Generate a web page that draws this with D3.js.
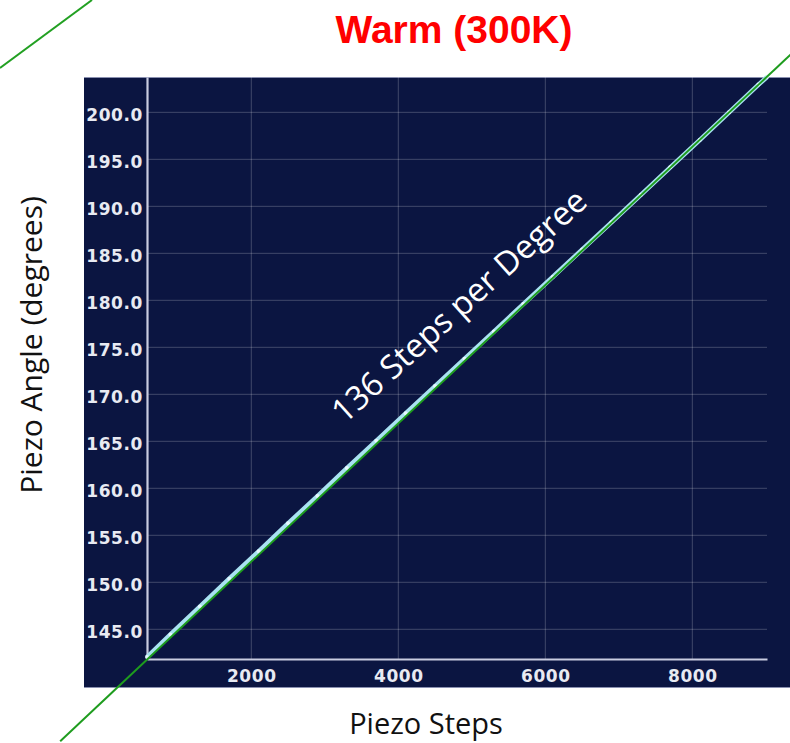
<!DOCTYPE html>
<html>
<head>
<meta charset="utf-8">
<script src="https://cdn.jsdelivr.net/npm/d3@7"></script>
<style>
  body { margin: 0; background: #ffffff; }
  svg { display: block; }
</style>
</head>
<body>
<div id="chart"></div>
<script>
var svgWidth = 790;
var svgHeight = 743;

// measured points (piezo steps, angle in degrees)
var pointSteps = [581, 900, 1300, 1700, 2100, 2500, 2900, 3300, 3700, 4100, 4500,
    4900, 5300, 5700, 6100, 6500, 6900, 7300, 7700, 8100, 8500, 8900, 9016];
var pointAngles = [142.05, 144.45, 147.42, 150.38, 153.30, 156.27, 159.17, 162.15, 165.05,
    167.98, 170.88, 173.78, 176.68, 179.60, 182.48, 185.40, 188.30, 191.22, 194.15,
    197.05, 200.00, 202.95, 203.76];

// linear fit: 136 steps per degree
var stepsPerDegree = 136;
var fitOffset = 137.5;
var fitSteps = [-600, 9400];

var xTicks = [2000, 4000, 6000, 8000];
var yTicks = [145, 150, 155, 160, 165, 170, 175, 180, 185, 190, 195, 200];

var titleText = 'Warm (300K)';
var xLabelText = 'Piezo Steps';
var yLabelText = 'Piezo Angle (degrees)';
var noteText = '136 Steps per Degree';

// plot area inside the dark panel
var plot = { left: 147, right: 767, top: 77, bottom: 659 };
var panel = { left: 84, right: 790, top: 77, bottom: 688 };

var svg = d3.select('#chart')
    .append('svg')
    .attr('width', svgWidth)
    .attr('height', svgHeight);

var xScale = d3.scaleLinear()
    .domain([581, 9016])
    .range([plot.left, plot.right]);

var yScale = d3.scaleLinear()
    .domain([141.84, 203.76])
    .range([plot.bottom, plot.top]);

// stray fit line from the neighbouring slide (top-left corner)
svg.append('line')
    .attr('x1', 0).attr('y1', 68)
    .attr('x2', 92).attr('y2', 0)
    .attr('stroke', '#22a022')
    .attr('stroke-width', 2);

// dark panel
svg.append('rect')
    .attr('x', panel.left)
    .attr('y', panel.top)
    .attr('width', panel.right - panel.left)
    .attr('height', panel.bottom - panel.top)
    .attr('fill', '#0b1541');

svg.append('line')
    .attr('x1', panel.left).attr('x2', panel.right)
    .attr('y1', panel.top + 0.5).attr('y2', panel.top + 0.5)
    .attr('stroke', '#8a90b0').attr('stroke-width', 1);
svg.append('line')
    .attr('x1', panel.left).attr('x2', panel.right)
    .attr('y1', panel.bottom - 0.5).attr('y2', panel.bottom - 0.5)
    .attr('stroke', '#8a90b0').attr('stroke-width', 1);

// grid
var grid = svg.append('g');
grid.selectAll('.vgrid')
    .data(xTicks)
    .enter()
    .append('line')
    .attr('x1', d => xScale(d)).attr('x2', d => xScale(d))
    .attr('y1', plot.top).attr('y2', plot.bottom)
    .attr('stroke', 'rgba(255,255,255,0.22)')
    .attr('stroke-width', 1);
grid.selectAll('.hgrid')
    .data(yTicks)
    .enter()
    .append('line')
    .attr('x1', plot.left).attr('x2', plot.right)
    .attr('y1', d => yScale(d)).attr('y2', d => yScale(d))
    .attr('stroke', 'rgba(255,255,255,0.22)')
    .attr('stroke-width', 1);

// axes
var bottomAxis = d3.axisBottom(xScale)
    .tickValues(xTicks)
    .tickSize(0)
    .tickPadding(14)
    .tickFormat(d3.format('d'));
var leftAxis = d3.axisLeft(yScale)
    .tickValues(yTicks)
    .tickSize(0)
    .tickPadding(4)
    .tickFormat(d3.format('.1f'));

var xAxis = svg.append('g')
    .attr('transform', `translate(0, ${plot.bottom})`)
    .call(bottomAxis);
var yAxis = svg.append('g')
    .attr('transform', `translate(${plot.left}, 0)`)
    .call(leftAxis);

[xAxis, yAxis].forEach(function (ax) {
    ax.select('.domain')
        .attr('stroke', '#c9cce0')
        .attr('stroke-width', 2.2);
    ax.selectAll('text')
        .attr('fill', '#e8eaf2')
        .attr('font-family', 'DejaVu Sans')
        .attr('font-weight', 'bold')
        .attr('font-size', '17px')
        .attr('letter-spacing', '0.6px');
});
yAxis.selectAll('text').attr('dy', '0.5em');
xAxis.selectAll('text').attr('dy', '0.55em');

// measured data
var pts = pointSteps.map((s, i) => [s, pointAngles[i]]);
var dataLine = d3.line()
    .x(d => xScale(d[0]))
    .y(d => yScale(d[1]));

svg.append('path')
    .datum(pts)
    .attr('d', dataLine)
    .attr('fill', 'none')
    .attr('stroke', '#a9e2f2')
    .attr('stroke-width', 4.5);

svg.selectAll('.pt')
    .data(pts)
    .enter()
    .append('circle')
    .attr('cx', d => xScale(d[0]))
    .attr('cy', d => yScale(d[1]))
    .attr('r', 2)
    .attr('fill', '#e6f7ff');

// fit line, runs past the panel
var fitPts = fitSteps.map(s => [s, s / stepsPerDegree + fitOffset]);
svg.append('path')
    .datum(fitPts)
    .attr('d', dataLine)
    .attr('fill', 'none')
    .attr('stroke', '#1e9c1e')
    .attr('stroke-width', 2);

// annotation along the line
var noteX = xScale(4930);
var noteY = yScale(178.5);
svg.append('text')
    .attr('transform', `translate(${noteX}, ${noteY}) rotate(-42)`)
    .attr('text-anchor', 'middle')
    .attr('fill', '#ffffff')
    .attr('font-family', 'Open Sans')
    .attr('font-size', '33px')
    .text(noteText);

// title and labels
svg.append('text')
    .attr('x', 454)
    .attr('y', 43)
    .attr('text-anchor', 'middle')
    .attr('fill', '#ff0000')
    .attr('font-family', 'Liberation Sans')
    .attr('font-weight', 'bold')
    .attr('font-size', '39px')
    .text(titleText);

svg.append('text')
    .attr('x', 426)
    .attr('y', 734)
    .attr('text-anchor', 'middle')
    .attr('fill', '#111111')
    .attr('font-family', 'Open Sans')
    .attr('font-size', '29px')
    .text(xLabelText);

svg.append('text')
    .attr('transform', 'translate(42, 345) rotate(-90)')
    .attr('text-anchor', 'middle')
    .attr('fill', '#111111')
    .attr('font-family', 'Open Sans')
    .attr('font-size', '30px')
    .text(yLabelText);
</script>
</body>
</html>
